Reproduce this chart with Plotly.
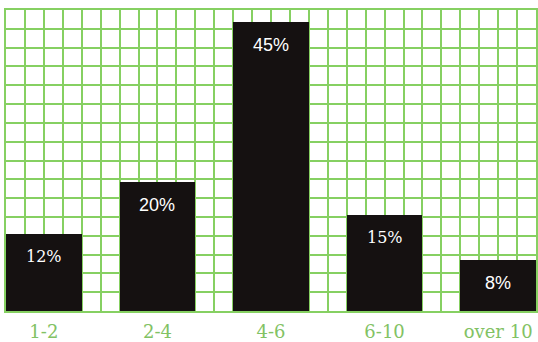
import plotly.graph_objects as go

# Share of respondents by range
categories = ["1-2", "2-4", "4-6", "6-10", "over 10"]
values = [12, 20, 45, 15, 8]
value_labels = ["12%", "20%", "45%", "15%", "8%"]
label_fonts = ["DejaVu Serif", "Liberation Sans", "Liberation Sans", "DejaVu Serif", "Liberation Sans"]
label_sizes = [16, 18, 18, 16, 18]

GRID = "#86d062"
LABEL_GREEN = "#82c264"
BAR = "#151111"

positions = list(range(len(categories)))
y_top = 46.8          # axis ceiling, 16 grid rows
rows = 16

fig = go.Figure()
fig.add_trace(go.Bar(
    x=positions,
    y=values,
    width=2 / 3,
    marker=dict(color=BAR, line=dict(width=0)),
    hoverinfo="skip",
))

for xi, v, txt, fam, sz in zip(positions, values, value_labels, label_fonts, label_sizes):
    fig.add_annotation(
        x=xi, y=v, text=txt, showarrow=False,
        yanchor="middle", yshift=-23,
        font=dict(family=fam, size=sz, color="white"),
    )

fig.update_xaxes(
    range=[-1 / 3, len(categories) - 1 + 1 / 3],
    tickmode="array", tickvals=positions, ticktext=categories,
    tickfont=dict(family="DejaVu Serif", size=18, color=LABEL_GREEN),
    ticks="", ticklabelstandoff=4,
    showgrid=True, gridcolor=GRID, gridwidth=1.5,
    minor=dict(tickmode="linear", tick0=-1 / 3, dtick=1 / 6,
               showgrid=True, gridcolor=GRID, gridwidth=1.5, ticks=""),
    showline=True, linecolor=GRID, linewidth=1.5, mirror=True,
    zeroline=False, fixedrange=True,
)
fig.update_yaxes(
    range=[0, y_top],
    tick0=0, dtick=y_top / rows,
    showticklabels=False, ticks="",
    showgrid=True, gridcolor=GRID, gridwidth=1.5,
    showline=True, linecolor=GRID, linewidth=1.5, mirror=True,
    zeroline=False, fixedrange=True,
)

fig.update_layout(
    width=538, height=342,
    margin=dict(l=6, r=0, t=10, b=27),
    paper_bgcolor="white", plot_bgcolor="white",
    showlegend=False, bargap=0,
)

fig.write_html("out.html", config={"displayModeBar": False})
